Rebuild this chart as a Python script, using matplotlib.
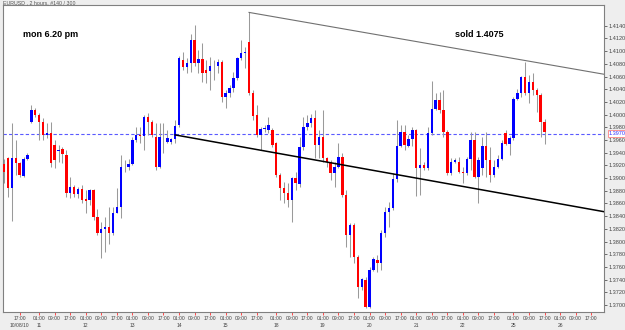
import matplotlib
matplotlib.use("Agg")
import matplotlib.pyplot as plt
import matplotlib.transforms as mtransforms
import numpy as np

plt.rcParams['font.family'] = ['Liberation Sans', 'DejaVu Sans']

# EURUSD 2-hour candles (bar 0 = Fri 08 Oct 09:00)
opens = [1.3922, 1.3932, 1.3884, 1.3932, 1.3924, 1.3903, 1.3930, 1.3988, 1.4007, 1.3999,
         1.3988, 1.3968, 1.3971, 1.3952, 1.3943, 1.3946, 1.3936, 1.3876, 1.3886, 1.3875,
         1.3883, 1.3867, 1.3865, 1.3881, 1.3839, 1.3813, 1.3820, 1.3823, 1.3813, 1.3845,
         1.3854, 1.3917, 1.3918, 1.3922, 1.3960, 1.3968, 1.3966, 1.3996, 1.3988, 1.3965,
         1.3917, 1.3965, 1.3957, 1.3957, 1.3961, 1.3983, 1.4086, 1.4075, 1.4082, 1.4117,
         1.4081, 1.4087, 1.4070, 1.4069, 1.4076, 1.4077, 1.4083, 1.4028, 1.4034, 1.4042,
         1.4058, 1.4089, 1.4097, 1.4114, 1.4034, 1.3999, 1.3968, 1.3977, 1.3976, 1.3976,
         1.3955, 1.3905, 1.3884, 1.3876, 1.3865, 1.3900, 1.3891, 1.3949, 1.3980, 1.3987,
         1.3995, 1.3952, 1.3965, 1.3932, 1.3925, 1.3908, 1.3917, 1.3933, 1.3873, 1.3810,
         1.3826, 1.3776, 1.3728, 1.3739, 1.3697, 1.3755, 1.3771, 1.3766, 1.3813, 1.3846,
         1.3853, 1.3898, 1.3950, 1.3972, 1.3950, 1.3961, 1.3976, 1.3916, 1.3920, 1.3916,
         1.3971, 1.4009, 1.4023, 1.4007, 1.3972, 1.3908, 1.3925, 1.3925, 1.3909, 1.3908,
         1.3930, 1.3960, 1.3902, 1.3916, 1.3950, 1.3928, 1.3905, 1.3917, 1.3930, 1.3971,
         1.3954, 1.3963, 1.4024, 1.4034, 1.4059, 1.4034, 1.4051, 1.4039, 1.4031, 1.3988]
highs = [1.3930, 1.3934, 1.3987, 1.3960, 1.3926, 1.3933, 1.3939, 1.4015, 1.4010, 1.4002,
         1.3995, 1.3987, 1.3988, 1.3960, 1.3952, 1.3949, 1.3944, 1.3902, 1.3889, 1.3886,
         1.3889, 1.3881, 1.3883, 1.3883, 1.3851, 1.3831, 1.3839, 1.3854, 1.3854, 1.3884,
         1.3936, 1.3928, 1.3930, 1.3965, 1.3980, 1.3980, 1.3999, 1.4002, 1.3991, 1.3987,
         1.3987, 1.3987, 1.3976, 1.3963, 1.3991, 1.4092, 1.4098, 1.4089, 1.4127, 1.4141,
         1.4102, 1.4113, 1.4086, 1.4091, 1.4086, 1.4087, 1.4086, 1.4039, 1.4047, 1.4067,
         1.4091, 1.4117, 1.4106, 1.4161, 1.4039, 1.4015, 1.3980, 1.3983, 1.3996, 1.3979,
         1.3957, 1.3908, 1.3894, 1.3892, 1.3902, 1.3909, 1.3965, 1.3996, 1.3999, 1.4001,
         1.4007, 1.3976, 1.4007, 1.3933, 1.3928, 1.3925, 1.3955, 1.3939, 1.3881, 1.3829,
         1.3829, 1.3779, 1.3743, 1.3744, 1.3760, 1.3776, 1.3779, 1.3818, 1.3854, 1.3862,
         1.3908, 1.3991, 1.3983, 1.3983, 1.3968, 1.3980, 1.3978, 1.3947, 1.3925, 1.3980,
         1.4053, 1.4034, 1.4035, 1.4039, 1.3976, 1.3932, 1.3932, 1.3933, 1.3917, 1.3933,
         1.3972, 1.3972, 1.3933, 1.3965, 1.3972, 1.3949, 1.3928, 1.3936, 1.3960, 1.3976,
         1.3966, 1.4028, 1.4040, 1.4061, 1.4083, 1.4062, 1.4065, 1.4042, 1.4034, 1.3993]
lows = [1.3892, 1.3870, 1.3832, 1.3905, 1.3902, 1.3902, 1.3928, 1.3987, 1.3996, 1.3960,
        1.3960, 1.3963, 1.3917, 1.3916, 1.3925, 1.3924, 1.3870, 1.3869, 1.3870, 1.3869,
        1.3861, 1.3845, 1.3858, 1.3834, 1.3810, 1.3774, 1.3783, 1.3796, 1.3810, 1.3845,
        1.3837, 1.3909, 1.3913, 1.3921, 1.3957, 1.3955, 1.3944, 1.3968, 1.3965, 1.3913,
        1.3916, 1.3939, 1.3955, 1.3954, 1.3955, 1.3980, 1.4070, 1.4065, 1.4067, 1.4076,
        1.4065, 1.4051, 1.4050, 1.4039, 1.4054, 1.4065, 1.4020, 1.4010, 1.4028, 1.4035,
        1.4054, 1.4086, 1.4073, 1.4031, 1.3991, 1.3965, 1.3944, 1.3972, 1.3971, 1.3949,
        1.3902, 1.3865, 1.3861, 1.3854, 1.3831, 1.3881, 1.3886, 1.3944, 1.3976, 1.3980,
        1.3932, 1.3932, 1.3925, 1.3917, 1.3897, 1.3886, 1.3916, 1.3870, 1.3791, 1.3776,
        1.3766, 1.3711, 1.3724, 1.3695, 1.3695, 1.3754, 1.3752, 1.3755, 1.3807, 1.3823,
        1.3850, 1.3894, 1.3949, 1.3944, 1.3949, 1.3950, 1.3872, 1.3873, 1.3913, 1.3913,
        1.3968, 1.4007, 1.4002, 1.3965, 1.3905, 1.3905, 1.3924, 1.3908, 1.3892, 1.3905,
        1.3913, 1.3900, 1.3861, 1.3905, 1.3902, 1.3894, 1.3902, 1.3916, 1.3928, 1.3952,
        1.3936, 1.3960, 1.4023, 1.4028, 1.4031, 1.4018, 1.4031, 1.4004, 1.3965, 1.3954]
closes = [1.3909, 1.3884, 1.3932, 1.3924, 1.3905, 1.3930, 1.3936, 1.4007, 1.3999, 1.3988,
          1.3968, 1.3971, 1.3924, 1.3929, 1.3944, 1.3938, 1.3876, 1.3886, 1.3875, 1.3883,
          1.3865, 1.3864, 1.3881, 1.3839, 1.3813, 1.3820, 1.3823, 1.3813, 1.3845, 1.3854,
          1.3917, 1.3918, 1.3922, 1.3960, 1.3968, 1.3966, 1.3996, 1.3988, 1.3968, 1.3917,
          1.3965, 1.3964, 1.3963, 1.3961, 1.3982, 1.4089, 1.4075, 1.4081, 1.4117, 1.4082,
          1.4087, 1.4065, 1.4065, 1.4076, 1.4077, 1.4083, 1.4028, 1.4034, 1.4042, 1.4058,
          1.4089, 1.4097, 1.4098, 1.4034, 1.3998, 1.3968, 1.3977, 1.3979, 1.3983, 1.3952,
          1.3905, 1.3884, 1.3876, 1.3865, 1.3900, 1.3892, 1.3949, 1.3980, 1.3987, 1.3995,
          1.3952, 1.3965, 1.3932, 1.3925, 1.3908, 1.3917, 1.3933, 1.3873, 1.3810, 1.3826,
          1.3776, 1.3728, 1.3741, 1.3697, 1.3755, 1.3772, 1.3766, 1.3813, 1.3846, 1.3853,
          1.3898, 1.3950, 1.3972, 1.3952, 1.3961, 1.3976, 1.3916, 1.3920, 1.3916, 1.3971,
          1.4009, 1.4023, 1.4007, 1.3972, 1.3908, 1.3925, 1.3928, 1.3909, 1.3908, 1.3930,
          1.3960, 1.3902, 1.3928, 1.3950, 1.3928, 1.3905, 1.3917, 1.3930, 1.3955, 1.3954,
          1.3963, 1.4024, 1.4034, 1.4059, 1.4034, 1.4051, 1.4039, 1.4031, 1.3988, 1.3972]

# time axis: bar index of each label
tick_bars = [4, 9, 13, 17, 21, 25, 29, 33, 37, 41, 45, 49, 53, 57, 61, 65,
             70, 74, 78, 82, 86, 90, 94, 98, 102, 106, 110, 114, 118, 122, 126,
             131, 135, 139, 143, 147, 151]
tick_labels = ["17:00\n10/08/10",
               "01:00\n11", "09:00", "17:00", "01:00\n12", "09:00", "17:00",
               "01:00\n13", "09:00", "17:00", "01:00\n14", "09:00", "17:00",
               "01:00\n15", "09:00", "17:00", "01:00\n18", "09:00", "17:00",
               "01:00\n19", "09:00", "17:00", "01:00\n20", "09:00", "17:00",
               "01:00\n21", "09:00", "17:00", "01:00\n22", "09:00", "17:00",
               "01:00\n25", "09:00", "17:00", "01:00\n26", "09:00", "17:00"]
price_ticks = [1.3700, 1.3720, 1.3740, 1.3760, 1.3780, 1.3800, 1.3820, 1.3840,
               1.3860, 1.3880, 1.3900, 1.3920, 1.3940, 1.3960, 1.3980, 1.4000,
               1.4020, 1.4040, 1.4060, 1.4080, 1.4100, 1.4120, 1.4140]
last_price = 1.3970

# hand-drawn trend lines: (bar index, price) at each end
upper_bars, upper_prices = [63, 160], [1.4161, 1.40575]
lower_bars, lower_prices = [44, 160], [1.3968, 1.38408]

fig = plt.figure(figsize=(6.25, 3.3), dpi=100, facecolor='#eeeeee')
ax = fig.add_axes([0.0048, 0.0545, 0.9616, 0.930])
ax.set_facecolor('white')

x = np.arange(len(opens))
o = np.array(opens)
c = np.array(closes)
colors = ['#0000ff' if cc >= oo else '#ff0000' for oo, cc in zip(o, c)]
body_low = np.minimum(o, c)
body_h = np.maximum(np.abs(c - o), 0.00008)

ax.vlines(x, lows, highs, color='#9a9a9a', linewidth=0.75, zorder=2)
ax.bar(x, body_h, bottom=body_low, width=0.62, color=colors, linewidth=0, zorder=3)

ax.axhline(last_price, color='#5a5aff', linewidth=0.8, linestyle=(0, (3, 2)), zorder=1)
ax.plot(upper_bars, upper_prices, color='#707070', linewidth=0.8, zorder=4)
ax.plot(lower_bars, lower_prices, color='black', linewidth=1.1, zorder=4)

ax.set_xlim(-0.28, 154.3)
ax.set_ylim(1.3689, 1.41725)

ax.set_xticks(tick_bars)
ax.set_xticklabels(tick_labels, fontsize=3.6, color='#444444', linespacing=1.35)
ax.tick_params(axis='x', length=2, width=0.6, color='#ff3030', pad=1)

ax.yaxis.tick_right()
ax.set_yticks(price_ticks)
ax.set_yticklabels(['%.4f' % p for p in price_ticks], fontsize=4, color='#444444')
ax.tick_params(axis='y', length=2.5, width=0.6, color='#555555', pad=1)

for s in ax.spines.values():
    s.set_color('#808080')
    s.set_linewidth(0.8)

trans = mtransforms.blended_transform_factory(ax.transAxes, ax.transData)
ax.text(1.0075, last_price, '%.4f' % last_price, transform=trans, fontsize=4,
        color='#3030ff', va='center', ha='left', zorder=6,
        bbox=dict(boxstyle='square,pad=0.12', fc='white', ec='#ff8080', lw=0.6))

ax.text(0.0333, 0.905, 'mon 6.20 pm', transform=ax.transAxes, fontsize=6.5,
        fontweight='bold', va='center', ha='left', color='black')
ax.text(0.793, 0.905, 'sold 1.4075', transform=ax.transAxes, fontsize=6.5,
        fontweight='bold', va='center', ha='center', color='black')

fig.text(0.005, 0.998, 'EURUSD , 2 hours, #140 / 300', fontsize=3.8,
         color='#555555', va='top', ha='left')

fig.savefig('out.png', dpi=100, facecolor=fig.get_facecolor())
